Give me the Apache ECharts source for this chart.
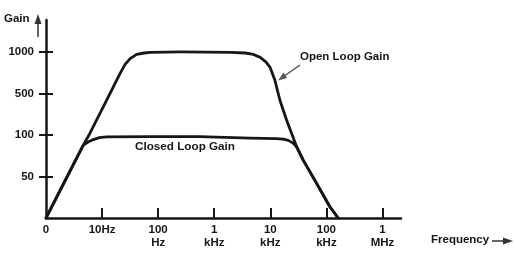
<!DOCTYPE html>
<html>
<head>
<meta charset="utf-8">
<script src="https://cdn.jsdelivr.net/npm/echarts@6/dist/echarts.min.js"></script>
<style>
  html, body { margin: 0; padding: 0; background: #fff; }
  #chart { width: 515px; height: 254px; }
</style>
</head>
<body>
<div id="chart"></div>
<script>
// x = decade index (0, 10Hz, 100Hz ... 1MHz), y = gain step index (0, 50, 100, 500, 1000)
const xTickLabels = ['0', '10Hz', '100\nHz', '1\nkHz', '10\nkHz', '100\nkHz', '1\nMHz'];
const yTickLabels = ['0', '50', '100', '500', '1000'];

const openLoop = [
    [0, 0], [0.665, 1.755], [0.784, 2.043], [1.082, 2.837], [1.319, 3.478],
    [1.41, 3.7], [1.5, 3.84], [1.617, 3.942], [1.75, 3.975], [1.854, 3.99],
    [2.4, 4.0], [3.3, 3.99], [3.55, 3.975], [3.7, 3.94], [3.82, 3.87],
    [3.92, 3.76], [3.993, 3.637], [4.082, 3.317], [4.171, 2.837],
    [4.291, 2.356], [4.469, 1.714], [4.586, 1.394], [4.825, 0.834], [5.062, 0.272],
    [5.21, 0]
];
const closedLoop = [
    [0, 0], [0.665, 1.755], [0.75, 1.83], [0.843, 1.89], [0.95, 1.935],
    [1.082, 1.954], [1.854, 1.958], [2.745, 1.96], [3.636, 1.925], [4.1, 1.91],
    [4.23, 1.9], [4.32, 1.87], [4.4, 1.81], [4.469, 1.714],
    [4.586, 1.394], [4.825, 0.834], [5.062, 0.272], [5.21, 0]
];

const font = "'Liberation Sans', Arial, sans-serif";
const ink = '#161616';

const chart = echarts.init(document.getElementById('chart'));

const option = {
    animation: false,
    grid: { left: 46, right: 114, top: 20, bottom: 36 },
    xAxis: {
        type: 'value', min: 0, max: 6.33,
        splitLine: { show: false },
        axisLine: { lineStyle: { color: ink, width: 2.5 } },
        axisTick: {
            inside: true, length: 10, customValues: [1, 2, 3, 4, 5, 6],
            lineStyle: { color: ink, width: 2 }
        },
        axisLabel: {
            customValues: [0, 1, 2, 3, 4, 5, 6],
            formatter: v => xTickLabels[Math.round(v)],
            margin: 5, lineHeight: 13,
            fontFamily: font, fontWeight: 'bold', fontSize: 11.5, color: ink
        }
    },
    yAxis: [{
        type: 'value', min: 0, max: 4.77,
        splitLine: { show: false },
        axisLine: { lineStyle: { color: ink, width: 2.5 } },
        axisTick: {
            length: 7, customValues: [1, 2, 3, 4],
            lineStyle: { color: ink, width: 2 }
        },
        axisLabel: {
            customValues: [1, 2, 3, 4],
            formatter: v => yTickLabels[Math.round(v)],
            margin: 12,
            fontFamily: font, fontWeight: 'bold', fontSize: 11.5, color: ink
        }
    }, {
        type: 'value', min: 0, max: 4.77, position: 'left',
        splitLine: { show: false },
        axisLine: { show: false },
        axisTick: {
            inside: true, length: 7, customValues: [1, 2, 3, 4],
            lineStyle: { color: ink, width: 2 }
        },
        axisLabel: { show: false }
    }],
    series: [{
        name: 'Open Loop Gain', type: 'line', data: openLoop,
        symbol: 'none',
        lineStyle: { color: ink, width: 2.8, join: 'round', cap: 'round' }
    }, {
        name: 'Closed Loop Gain', type: 'line', data: closedLoop,
        symbol: 'none',
        lineStyle: { color: ink, width: 2.8, join: 'round', cap: 'round' }
    }],
    graphic: [
        { type: 'text', left: 4, top: 13, style: { text: 'Gain', font: 'bold 11.5px ' + font, fill: ink } },
        { type: 'line', shape: { x1: 38, y1: 37, x2: 38, y2: 20 }, style: { stroke: '#333', lineWidth: 1.5 } },
        { type: 'polygon', shape: { points: [[38, 14], [34.5, 24], [41.5, 24]] }, style: { fill: '#333' } },
        { type: 'text', left: 300, top: 51, style: { text: 'Open Loop Gain', font: 'bold 11.5px ' + font, fill: ink } },
        { type: 'line', shape: { x1: 300, y1: 65, x2: 283, y2: 77 }, style: { stroke: '#555', lineWidth: 1.5 } },
        { type: 'polygon', shape: { points: [[278, 80.5], [283.5, 72.5], [287, 78]] }, style: { fill: '#555' } },
        { type: 'text', left: 135, top: 141, style: { text: 'Closed Loop Gain', font: 'bold 11.7px ' + font, fill: ink } },
        { type: 'text', left: 431, top: 234, style: { text: 'Frequency', font: 'bold 11.5px ' + font, fill: ink } },
        { type: 'line', shape: { x1: 492, y1: 241, x2: 505, y2: 241 }, style: { stroke: '#333', lineWidth: 1.5 } },
        { type: 'polygon', shape: { points: [[513, 241], [503, 237.5], [503, 244.5]] }, style: { fill: '#333' } }
    ]
};

chart.setOption(option);
</script>
</body>
</html>
